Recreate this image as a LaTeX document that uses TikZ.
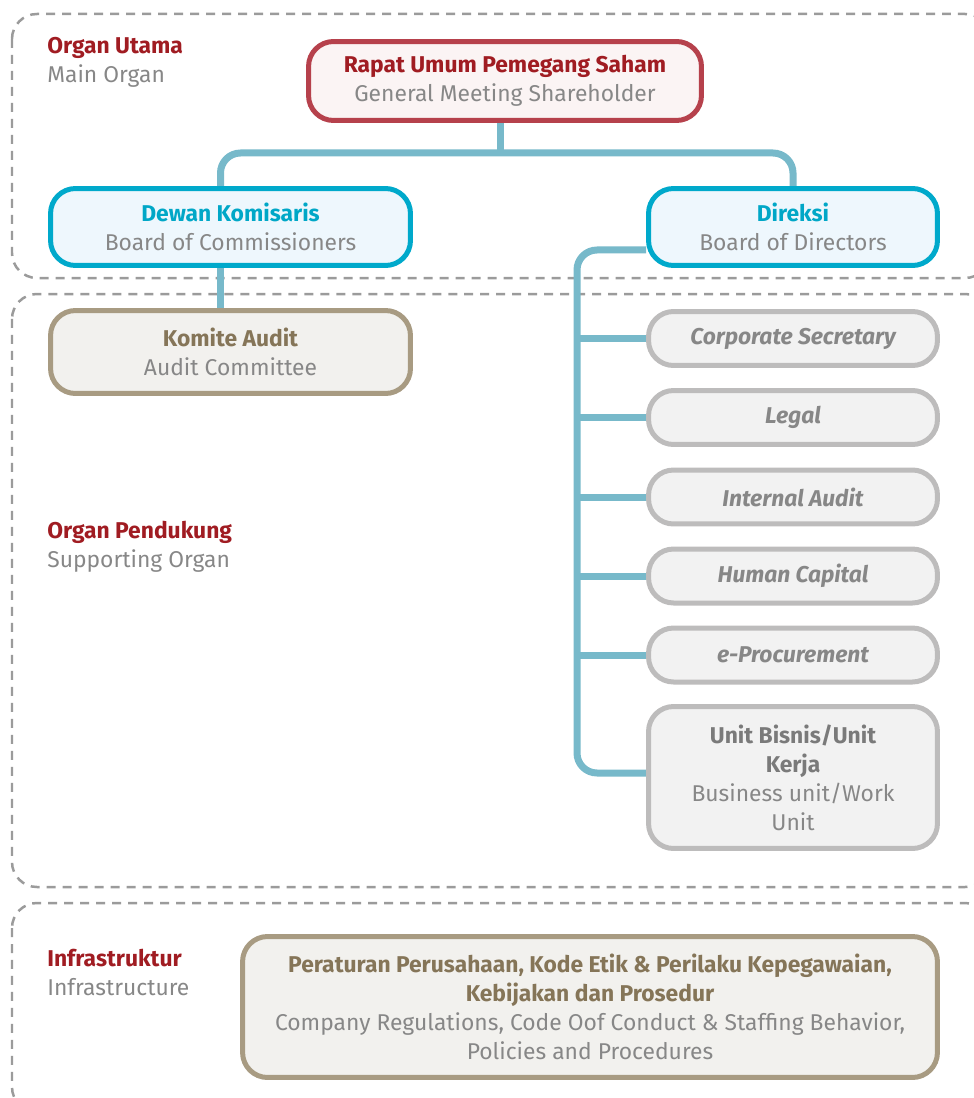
\documentclass[tikz,border=0pt]{standalone}
\usepackage{fontspec}
\setmainfont{Fira Sans}
\usepackage{xcolor}
\usetikzlibrary{backgrounds}
\definecolor{ORed}{HTML}{A01C22}
\definecolor{OGray}{HTML}{878787}
\definecolor{OCyan}{HTML}{00A7C7}
\definecolor{OTaupe}{HTML}{857558}
\definecolor{OUnitText}{HTML}{7A7A7A}
\definecolor{RupsLine}{HTML}{B6414C}
\definecolor{RupsFill}{HTML}{FBF4F4}
\definecolor{BoardLine}{HTML}{00A9CB}
\definecolor{BoardFill}{HTML}{EEF7FD}
\definecolor{TaupeLine}{HTML}{A89B82}
\definecolor{TaupeFill}{HTML}{F2F1EE}
\definecolor{UnitLine}{HTML}{BDBCBC}
\definecolor{UnitFill}{HTML}{F2F2F2}
\definecolor{ConnBlue}{HTML}{77B9CA}
\definecolor{ZoneGray}{HTML}{9B9B9B}

\begin{document}
\begin{tikzpicture}[x=0.02cm,y=-0.02cm,
  box/.style={rectangle,rounded corners=0.5cm,line width=0.1cm,align=center,inner sep=0pt,
    text=OGray,font=\fontsize{13}{16.5}\selectfont},
  toporg/.style={box,draw=RupsLine,fill=RupsFill,minimum width=7.86cm,minimum height=1.58cm},
  board/.style={box,draw=BoardLine,fill=BoardFill,minimum height=1.54cm},
  support/.style={box,draw=TaupeLine,fill=TaupeFill},
  unitbox/.style={box,draw=UnitLine,fill=UnitFill,minimum width=5.78cm,minimum height=1.08cm},
  conn/.style={ConnBlue,line width=0.14cm,rounded corners=0.4cm},
  zone/.style={ZoneGray,line width=0.05cm,dash pattern=on 0.18cm off 0.14cm,rounded corners=0.5cm},
  grouplbl/.style={anchor=west,align=left,inner sep=0pt,text=OGray,font=\fontsize{13}{16.5}\selectfont}]
\path[use as bounding box] (0,0) rectangle (973,1098);

% main organ
\node[toporg] (rups) at (505,81) {{\bfseries\color{ORed}Rapat Umum Pemegang Saham}\\General Meeting Shareholder};
\node[board,minimum width=7.2cm] (dekom) at (230.5,227) {{\bfseries\color{OCyan}Dewan Komisaris}\\Board of Commissioners};
\node[board,minimum width=5.78cm] (direksi) at (793,227) {{\bfseries\color{OCyan}Direksi}\\Board of Directors};

% supporting organ
\node[support,minimum width=7.2cm,minimum height=1.66cm] (komite) at (230.5,352) {{\bfseries\color{OTaupe}Komite Audit}\\Audit Committee};
\node[unitbox] (corpsec) at (793,338.5) {\bfseries\itshape Corporate Secretary};
\node[unitbox] (legal) at (793,417.5) {\bfseries\itshape Legal};
\node[unitbox] (intaudit) at (793,497) {\bfseries\itshape Internal Audit};
\node[unitbox] (hcap) at (793,576) {\bfseries\itshape Human Capital};
\node[unitbox] (eproc) at (793,655) {\bfseries\itshape e-Procurement};
\node[unitbox,minimum height=2.84cm] (unit) at (793,777.5) {{\bfseries\color{OUnitText}Unit Bisnis/Unit}\\{\bfseries\color{OUnitText}Kerja}\\Business unit/Work\\Unit};

% infrastructure
\node[support,minimum width=13.9cm,minimum height=2.82cm] (infra) at (590,1007) {{\bfseries\color{OTaupe}Peraturan Perusahaan, Kode Etik \& Perilaku Kepegawaian,}\\{\bfseries\color{OTaupe}Kebijakan dan Prosedur}\\Company Regulations, Code Oof Conduct \& Staffing Behavior,\\Policies and Procedures};

% group labels
\node[grouplbl] (lblmain) at (47,62) {{\bfseries\color{ORed}Organ Utama}\\Main Organ};
\node[grouplbl] (lblsupport) at (47,547) {{\bfseries\color{ORed}Organ Pendukung}\\Supporting Organ};
\node[grouplbl] (lblinfra) at (47,972) {{\bfseries\color{ORed}Infrastruktur}\\Infrastructure};

\begin{scope}[on background layer]
\draw[zone] (12,14) rectangle (990,278);
\draw[zone] (12,294) rectangle (990,887);
\draw[zone] (12,903) rectangle (990,1112);
\coordinate (bus) at (500,153);
\coordinate (spine) at (577,773);
\draw[conn] (rups.south -| bus) -- (bus);
\draw[conn] ([xshift=-0.2cm]dekom.north) |- (bus) -| (direksi.north);
\draw[conn] ([xshift=-0.2cm]dekom.south) -- ([xshift=-0.2cm]komite.north);
\draw[conn] ([yshift=-0.46cm]direksi.west) -| (spine) -- (unit.west |- spine);
\foreach \b in {corpsec,legal,intaudit,hcap,eproc}
  \draw[conn] (\b.west) -- (\b.west -| spine);
\end{scope}
\end{tikzpicture}
\end{document}
